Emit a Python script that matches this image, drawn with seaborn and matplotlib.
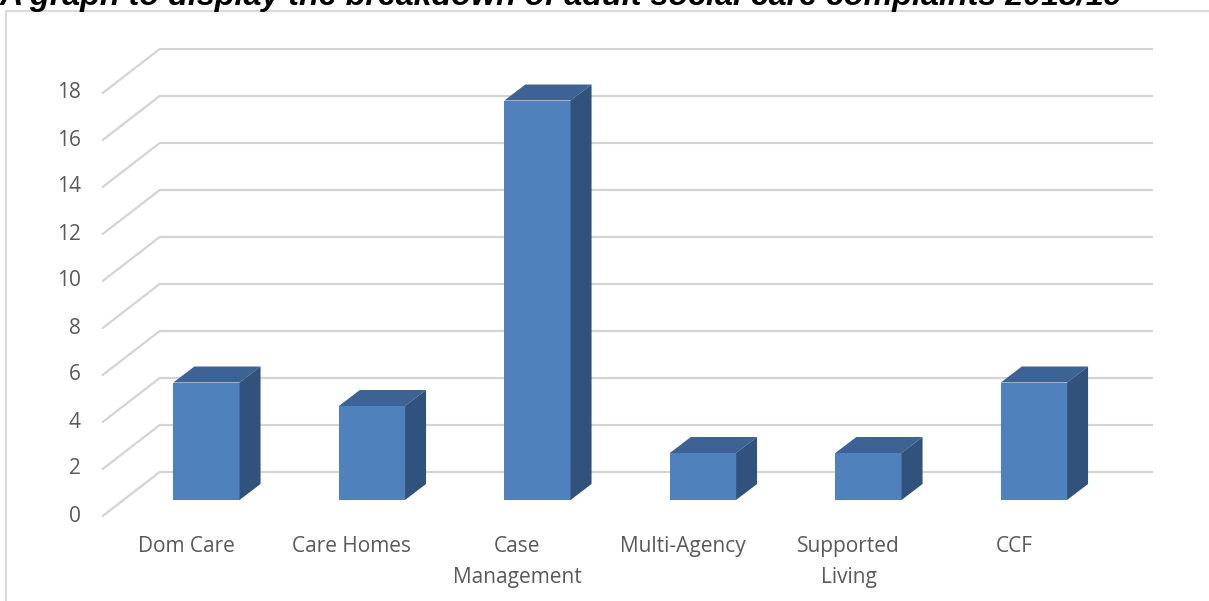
import matplotlib
matplotlib.use("Agg")
import matplotlib.pyplot as plt
from matplotlib.patches import Polygon
from matplotlib.lines import Line2D
import seaborn as sns
import pandas as pd

# ---- data ----
categories = ["Dom Care", "Care Homes", "Case\nManagement", "Multi-Agency", "Supported\nLiving", "CCF"]
complaints = [5, 4, 17, 2, 2, 5]
y_ticks = [0, 2, 4, 6, 8, 10, 12, 14, 16, 18]
title = "A graph to display the breakdown of adult social care complaints 2018/19"

sns.set_theme(style="white")
plt.rcParams["font.family"] = ["Open Sans", "DejaVu Sans"]

W, H = 1209, 601
fig = plt.figure(figsize=(W / 100, H / 100), dpi=100)
fig.patch.set_facecolor("white")

# axes placement (pixel geometry of the bar front plane)
left_px, right_px = 123.7, 1116.7
bottom_px, top_px = 500, 77
ax = fig.add_axes([left_px / W, (H - bottom_px) / H,
                   (right_px - left_px) / W, (bottom_px - top_px) / H])

df = pd.DataFrame({"category": categories, "complaints": complaints})
front_col, top_col, side_col = "#4f81bd", "#3c6394", "#31527c"
sns.barplot(data=df, x="category", y="complaints", color=front_col,
            saturation=1, width=0.4, ax=ax, zorder=3, linewidth=0)
ax.set_xlim(-0.5, len(categories) - 0.5)
ax.set_ylim(0, 18)
ax.set_axis_off()

# pixel -> data scale
p0 = ax.transData.transform((0, 0))
p1 = ax.transData.transform((1, 1))
sx, sy = p1[0] - p0[0], p1[1] - p0[1]

bx, by = 36 / sx, 28 / sy       # back wall offset
fx, fy = -21 / sx, -16 / sy     # front edge offset
dx, dy = 21 / sx, 16 / sy       # bar depth
xl, xr = -0.5, len(categories) - 0.5

grid_col = "#d4d4d4"
label_col = "#595959"
for v in y_ticks:
    ax.plot([xl + bx, xr + bx], [v + by, v + by], color=grid_col, lw=1.6,
            zorder=1, clip_on=False, solid_capstyle="butt")
    ax.plot([xl + fx, xl + bx], [v + fy, v + by], color=grid_col, lw=1.6,
            zorder=1, clip_on=False)
    ax.text(xl + fx - 22 / sx, v + fy, str(v), ha="right", va="center",
            fontsize=15, color=label_col, clip_on=False)

for p in ax.patches:
    x0, w, h = p.get_x(), p.get_width(), p.get_height()
    p.set_clip_on(False)
    top = Polygon([(x0, h), (x0 + w, h), (x0 + w + dx, h + dy), (x0 + dx, h + dy)],
                  closed=True, facecolor=top_col, edgecolor="none", zorder=3, clip_on=False)
    side = Polygon([(x0 + w, 0), (x0 + w + dx, dy), (x0 + w + dx, h + dy), (x0 + w, h)],
                   closed=True, facecolor=side_col, edgecolor="none", zorder=3, clip_on=False)
    ax.add_patch(top)
    ax.add_patch(side)

for i, c in enumerate(categories):
    ax.text(i - 20 / sx, -36 / sy, c, ha="center", va="top", fontsize=15,
            color=label_col, linespacing=1.6, clip_on=False)

# chart frame
fc = "#d9d9d9"
fig.add_artist(Line2D([6 / W, 6 / W], [0, 1 - 11 / H], color=fc, lw=1.5,
                      transform=fig.transFigure))
fig.add_artist(Line2D([6 / W, 1], [1 - 11 / H, 1 - 11 / H], color=fc, lw=1.5,
                      transform=fig.transFigure))

# title (cropped at top as in the reference)
fig.text(0.0 / W, 1 - 5 / H, title, ha="left", va="baseline",
         fontsize=23.2, fontweight="bold", style="italic",
         family=["Liberation Sans", "DejaVu Sans"], color="black")

fig.savefig("out.png", dpi=100, facecolor="white")
